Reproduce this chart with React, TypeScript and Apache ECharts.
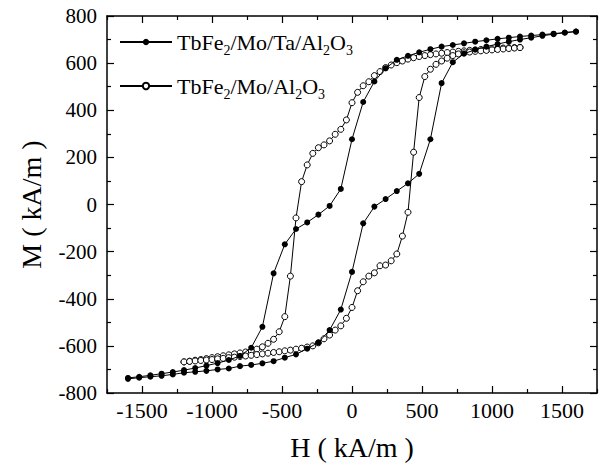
import React, { useEffect, useRef } from "react";
import * as echarts from "echarts";

// Sample 1: TbFe2/Mo/Ta/Al2O3 (filled circles)
const taDescH = [1600, 1520, 1440, 1360, 1280, 1200, 1120, 1040, 960, 880, 800, 720, 640, 560, 480, 400, 320, 240, 160, 80, 0, -80, -160, -240, -320, -400, -480, -560, -640, -720, -800, -880, -960, -1040, -1120, -1200, -1280, -1360, -1440, -1520, -1600];
const taDescM = [734, 730, 725, 721, 717, 713, 708, 703, 697, 691, 684, 677, 670, 659, 646, 631, 614, 578, 522, 435, 277, 66, -6, -43, -76, -104, -169, -292, -519, -608, -643, -660, -673, -684, -694, -703, -711, -718, -725, -731, -736];
const taAscH = [-1600, -1520, -1440, -1360, -1280, -1200, -1120, -1040, -960, -880, -800, -720, -640, -560, -480, -400, -320, -240, -160, -80, 0, 80, 160, 240, 320, 400, 480, 560, 640, 720, 800, 880, 960, 1040, 1120, 1200, 1280, 1360, 1440, 1520, 1600];
const taAscM = [-740, -735, -731, -727, -721, -714, -710, -706, -700, -696, -686, -681, -674, -665, -650, -636, -612, -586, -533, -446, -286, -80, -9, 23, 57, 90, 130, 277, 515, 604, 640, 657, 670, 681, 691, 700, 708, 716, 723, 729, 734];

// Sample 2: TbFe2/Mo/Al2O3 (open circles)
const alDescH = [1200, 1160, 1120, 1080, 1040, 1000, 960, 920, 880, 840, 800, 760, 720, 680, 640, 600, 560, 520, 480, 440, 400, 360, 320, 280, 240, 200, 160, 120, 80, 40, 0, -40, -80, -120, -160, -200, -240, -280, -320, -360, -400, -440, -480, -520, -560, -600, -640, -680, -720, -760, -800, -840, -880, -920, -960, -1000, -1040, -1080, -1120, -1160, -1200];
const alDescM = [667, 666, 665, 664, 662, 661, 660, 658, 656, 654, 652, 650, 647, 645, 642, 639, 636, 632, 628, 623, 617, 609, 602, 592, 581, 564, 547, 521, 504, 476, 432, 359, 319, 298, 270, 253, 241, 217, 168, 97, -57, -304, -476, -540, -572, -589, -604, -614, -621, -626, -630, -634, -638, -642, -646, -650, -654, -658, -661, -665, -668];
const alAscH = [-1200, -1160, -1120, -1080, -1040, -1000, -960, -920, -880, -840, -800, -760, -720, -680, -640, -600, -560, -520, -480, -440, -400, -360, -320, -280, -240, -200, -160, -120, -80, -40, 0, 40, 80, 120, 160, 200, 240, 280, 320, 360, 400, 440, 480, 520, 560, 600, 640, 680, 720, 760, 800, 840, 880, 920, 960, 1000, 1040, 1080, 1120, 1160, 1200];
const alAscM = [-668, -666, -664, -662, -660, -658, -655, -653, -650, -648, -645, -643, -640, -637, -634, -631, -628, -625, -621, -618, -614, -610, -605, -600, -587, -570, -554, -533, -515, -483, -437, -366, -328, -304, -290, -260, -257, -239, -210, -134, -33, 222, 454, 543, 574, 595, 609, 621, 632, 639, 644, 647, 650, 652, 654, 656, 658, 660, 662, 664, 666];

const seriesNames = ["TbFe2/Mo/Ta/Al2O3", "TbFe2/Mo/Al2O3"];
const legendRich: Record<string, string> = {
  "TbFe2/Mo/Ta/Al2O3": "{n|TbFe}{s|2}{n|/Mo/Ta/Al}{s|2}{n|O}{s|3}",
  "TbFe2/Mo/Al2O3": "{n|TbFe}{s|2}{n|/Mo/Al}{s|2}{n|O}{s|3}",
};
const xTickLabels = [-1500, -1000, -500, 0, 500, 1000, 1500];
const xTitle = "H ( kA/m )";
const yTitle = "M ( kA/m )";

function pairs(h: number[], m: number[]) {
  return h.map((x, i) => [x, m[i]]);
}

export default function App() {
  const ref = useRef<HTMLDivElement>(null);
  useEffect(() => {
    if (!ref.current) return;
    const chart = echarts.init(ref.current, null, { renderer: "svg" });
    const font = "'Liberation Serif', 'Times New Roman', serif";
    const black = "#000";
    const frameLine = { show: true, onZero: false, lineStyle: { color: black, width: 1.5 } };
    const tickStyle = { color: black, width: 1.2 };
    const plain = (v: number) => String(v);
    // ticks counted from min (-1750) every 500 give the short ticks at ±250, ±750, ±1250;
    // minor ticks halfway give the long ticks at multiples of 500
    const xBase = {
      type: "value",
      min: -1750,
      max: 1750,
      interval: 500,
      splitLine: { show: false },
      axisLine: frameLine,
      axisTick: { show: true, inside: true, length: 4, lineStyle: tickStyle },
      minorTick: { show: true, splitNumber: 2, length: 7, lineStyle: tickStyle },
    };
    const yBase = {
      type: "value",
      min: -800,
      max: 800,
      interval: 200,
      splitLine: { show: false },
      axisLine: frameLine,
      axisTick: { show: true, inside: true, length: 7, lineStyle: tickStyle },
      minorTick: { show: true, splitNumber: 2, length: 4, lineStyle: tickStyle },
    };
    const option: any = {
      animation: false,
      backgroundColor: "#fff",
      grid: { left: 107, right: 10, top: 16, bottom: 77, containLabel: false, outerBoundsMode: "none" },
      legend: {
        orient: "vertical",
        left: 119,
        top: 31,
        padding: 0,
        itemWidth: 52,
        itemHeight: 8,
        itemGap: 18,
        selectedMode: false,
        data: seriesNames,
        formatter: (name: string) => legendRich[name] || name,
        textStyle: {
          color: black,
          fontFamily: font,
          fontSize: 22,
          rich: {
            n: { color: black, fontFamily: font, fontSize: 22, lineHeight: 30 },
            s: { color: black, fontFamily: font, fontSize: 14, lineHeight: 14, verticalAlign: "bottom" },
          },
        },
      },
      xAxis: [
        {
          ...xBase,
          position: "bottom",
          axisLabel: { customValues: xTickLabels, formatter: plain, color: black, fontFamily: font, fontSize: 22, margin: 6 },
          name: xTitle,
          nameLocation: "middle",
          nameGap: 40,
          nameTextStyle: { color: black, fontFamily: font, fontSize: 28 },
        },
        {
          ...xBase,
          position: "top",
          axisLabel: { show: false },
        },
      ],
      yAxis: [
        {
          ...yBase,
          position: "left",
          axisLabel: { formatter: plain, color: black, fontFamily: font, fontSize: 21, margin: 10 },
          name: yTitle,
          nameLocation: "middle",
          nameGap: 62,
          nameTextStyle: { color: black, fontFamily: font, fontSize: 28 },
        },
        {
          ...yBase,
          position: "right",
          axisLabel: { show: false },
        },
      ],
      series: [
        {
          name: seriesNames[0],
          type: "line",
          xAxisIndex: 0,
          yAxisIndex: 0,
          data: pairs(taDescH, taDescM).concat(pairs(taAscH, taAscM)),
          symbol: "circle",
          symbolSize: 6,
          lineStyle: { color: black, width: 1 },
          itemStyle: { color: black, borderColor: black, borderWidth: 0 },
          emphasis: { disabled: true },
          z: 3,
        },
        {
          name: seriesNames[1],
          type: "line",
          xAxisIndex: 0,
          yAxisIndex: 0,
          data: pairs(alDescH, alDescM).concat(pairs(alAscH, alAscM)),
          symbol: "circle",
          symbolSize: 6,
          lineStyle: { color: black, width: 1 },
          itemStyle: { color: "#fff", borderColor: black, borderWidth: 1 },
          emphasis: { disabled: true },
          z: 2,
        },
      ],
    };
    chart.setOption(option);
    return () => chart.dispose();
  }, []);
  return <div ref={ref} style={{ position: "fixed", left: 0, top: 0, width: 607, height: 470, background: "#fff" }} />;
}
